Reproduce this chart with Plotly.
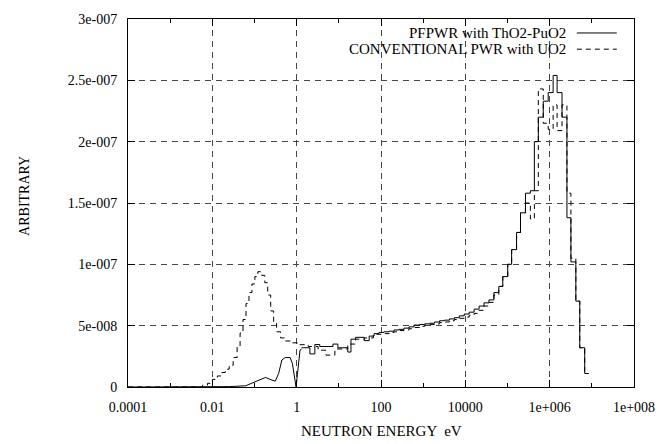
import plotly.graph_objects as go

# ---- PFPWR with ThO2-PuO2 : smooth thermal part (energy eV, flux) ----
pf_therm_e = [1e-4, 0.00499, 0.0251, 0.0619, 0.0869, 0.1268, 0.182, 0.260, 0.312,
              0.373, 0.446, 0.535, 0.700, 0.793, 0.883, 0.968, 1.04, 1.20, 1.31]
pf_therm_v = [0.0, 0.0, 0.3e-9, 1.0e-9, 3.0e-9, 5.6e-9, 7.8e-9, 5.6e-9, 4.8e-9,
              1.1e-8, 2.2e-8, 2.4e-8, 2.4e-8, 1.9e-8, 1.0e-8, 0.0, 1.0e-8, 3.0e-8, 3.1e-8]

# ---- PFPWR : histogram part (bin lower edges in eV, values) ----
pf_edges = [1.31, 1.44, 2.06, 2.70, 3.53, 7.24, 9.49, 16.3, 19.4, 25.0, 40.0, 52.4, 68.6,
            89.8, 117, 156, 205, 268, 351, 460, 603, 832, 1089, 1429, 1871, 2449, 3207,
            4198, 5496, 7194, 9419, 12330, 16140, 21180, 27730, 36310, 47530, 62230,
            77270, 101200, 125400, 164100, 203700, 266700, 349100, 433500, 538200,
            704700, 922500, 1.208e6, 1.500e6, 1.963e6, 2.570e6, 3.191e6, 4.178e6,
            5.176e6, 6.776e6, 8.414e6]
pf_vals = [3.2e-8, 3.2e-8, 2.7e-8, 3.46e-8, 3.3e-8, 3.5e-8, 3.2e-8, 2.85e-8, 3.9e-8,
           4.05e-8, 3.78e-8, 4.15e-8, 4.35e-8, 4.45e-8, 4.5e-8, 4.55e-8, 4.65e-8, 4.7e-8,
           4.8e-8, 4.9e-8, 5.05e-8, 5.1e-8, 5.15e-8, 5.2e-8, 5.3e-8, 5.4e-8, 5.45e-8,
           5.55e-8, 5.65e-8, 5.8e-8, 5.95e-8, 6.1e-8, 6.35e-8, 6.6e-8, 6.86e-8, 7.1e-8,
           7.7e-8, 8.2e-8, 9.0e-8, 1.0e-7, 1.12e-7, 1.26e-7, 1.42e-7, 1.58e-7, 1.6e-7,
           2.0e-7, 2.2e-7, 2.33e-7, 2.4e-7, 2.54e-7, 2.4e-7, 2.2e-7, 1.38e-7, 1.02e-7,
           7.0e-8, 3.2e-8, 1.1e-8, 1.1e-8]

# ---- CONVENTIONAL PWR with UO2 : histogram (bin lower edges in eV, values) ----
uo_edges = [1e-4, 0.00291, 0.00586, 0.00767, 0.01004, 0.01315, 0.01633, 0.02028, 0.02512,
            0.03119, 0.03873, 0.04550, 0.05346, 0.06290, 0.07396, 0.08690, 0.1021,
            0.1202, 0.1489, 0.1754, 0.2061, 0.2421, 0.2844, 0.3350, 0.4150, 0.5433,
            0.7112, 1.096, 1.879, 3.221, 4.966, 8.054, 16.26, 25.0, 40.6, 66.0,
            117, 156, 205, 268, 351, 460, 603, 832, 1089, 1429, 1871, 2449, 3207,
            4198, 5496, 7194, 9419, 12330, 16140, 21180, 27730, 36310, 47530, 62230,
            77270, 101200, 125400, 164100, 203700, 266700, 349100, 433500, 538200,
            704700, 922500, 1.208e6, 1.500e6, 1.963e6, 2.570e6, 3.191e6, 4.178e6,
            5.176e6, 6.776e6, 8.414e6]
uo_vals = [0.0, 0.0, 1.5e-9, 3.0e-9, 6.2e-9, 9.0e-9, 1.18e-8, 1.45e-8, 1.77e-8,
           2.4e-8, 3.3e-8, 4.4e-8, 5.5e-8, 6.8e-8, 7.7e-8, 8.4e-8, 9.0e-8,
           9.4e-8, 9.1e-8, 8.5e-8, 7.5e-8, 6.2e-8, 5.2e-8, 4.5e-8, 4.0e-8, 3.75e-8,
           3.6e-8, 3.45e-8, 3.3e-8, 3.0e-8, 2.6e-8, 3.1e-8, 3.5e-8, 3.9e-8, 4.0e-8, 4.3e-8,
           4.35e-8, 4.45e-8, 4.5e-8, 4.6e-8, 4.65e-8, 4.75e-8, 4.85e-8, 4.95e-8, 5.05e-8,
           5.1e-8, 5.15e-8, 5.25e-8, 5.3e-8, 5.4e-8, 5.5e-8, 5.6e-8, 5.7e-8, 5.85e-8,
           6.0e-8, 6.25e-8, 6.6e-8, 6.9e-8, 7.5e-8, 8.2e-8, 9.0e-8, 1.0e-7, 1.12e-7,
           1.26e-7, 1.42e-7, 1.5e-7, 1.37e-7, 1.6e-7, 2.43e-7, 2.15e-7, 2.1e-7, 2.3e-7,
           2.09e-7, 2.3e-7, 1.58e-7, 1.05e-7, 7.0e-8, 3.2e-8, 1.1e-8, 1.1e-8]

x_tickvals = [1e-4, 1e-2, 1, 1e2, 1e4, 1e6, 1e8]
x_ticktext = ["0.0001", "0.01", "1", "100", "10000", "1e+006", "1e+008"]
x_minor = [1e-3, 1e-1, 1e1, 1e3, 1e5, 1e7]
y_tickvals = [0, 5e-8, 1e-7, 1.5e-7, 2e-7, 2.5e-7, 3e-7]
y_ticktext = ["0", "5e-008", "1e-007", "1.5e-007", "2e-007", "2.5e-007", "3e-007"]

label_pf = "PFPWR with ThO2-PuO2"
label_uo = "CONVENTIONAL PWR with UO2"

FONT = "Liberation Serif"
fig = go.Figure()
fig.add_trace(go.Scatter(x=pf_therm_e, y=pf_therm_v, mode="lines",
                         line=dict(color="black", width=1), showlegend=False))
fig.add_trace(go.Scatter(x=pf_edges, y=pf_vals, mode="lines", line_shape="hv",
                         line=dict(color="black", width=1), showlegend=False))
fig.add_trace(go.Scatter(x=uo_edges, y=uo_vals, mode="lines", line_shape="hv",
                         line=dict(color="black", width=1, dash="5px,4px"), showlegend=False))

grid = dict(showgrid=True, gridcolor="rgb(70,70,70)", gridwidth=1, griddash="6px,5px")
fig.update_xaxes(type="log", range=[-4, 8], tickvals=x_tickvals, ticktext=x_ticktext,
                 ticks="inside", ticklen=7, tickcolor="black", mirror="allticks",
                 showline=True, linecolor="black", linewidth=1, zeroline=False,
                 ticklabelstandoff=7,
                 minor=dict(tickvals=x_minor, ticks="inside", ticklen=4, tickcolor="black",
                            showgrid=False),
                 tickfont=dict(family=FONT, size=14, color="black"), **grid)
fig.update_yaxes(range=[0, 3e-7], tickvals=y_tickvals, ticktext=y_ticktext,
                 ticks="inside", ticklen=7, tickcolor="black", mirror="allticks",
                 showline=True, linecolor="black", linewidth=1, zeroline=False,
                 ticklabelstandoff=7,
                 tickfont=dict(family=FONT, size=14, color="black"), **grid)

# gnuplot-style key: text right-aligned, line sample on the right
key_rows = [(label_pf, 0.962, "solid"), (label_uo, 0.918, "5px,4px")]
for txt, yy, dash in key_rows:
    fig.add_annotation(x=0.870, y=yy, xref="paper", yref="paper", text=txt,
                       showarrow=False, xanchor="right", yanchor="middle",
                       font=dict(family=FONT, size=15, color="black"))
    fig.add_shape(type="line", xref="paper", yref="paper", x0=0.887, x1=0.966,
                  y0=yy, y1=yy, line=dict(color="black", width=1, dash=dash))

fig.add_annotation(x=0.5, y=-0.12, xref="paper", yref="paper", text="NEUTRON ENERGY  eV",
                   showarrow=False, xanchor="center", yanchor="middle",
                   font=dict(family=FONT, size=15, color="black"))
fig.add_annotation(x=-0.205, y=0.52, xref="paper", yref="paper", text="ARBITRARY",
                   showarrow=False, textangle=-90, xanchor="center", yanchor="middle",
                   font=dict(family=FONT, size=14, color="black"))

fig.update_layout(width=667, height=444, plot_bgcolor="white", paper_bgcolor="white",
                  margin=dict(l=128, r=27, t=14, b=57), showlegend=False)
fig.write_html("out.html", config={"displayModeBar": False},
               post_script="document.body.style.margin='0px';"
                           "document.body.style.overflow='hidden';")
